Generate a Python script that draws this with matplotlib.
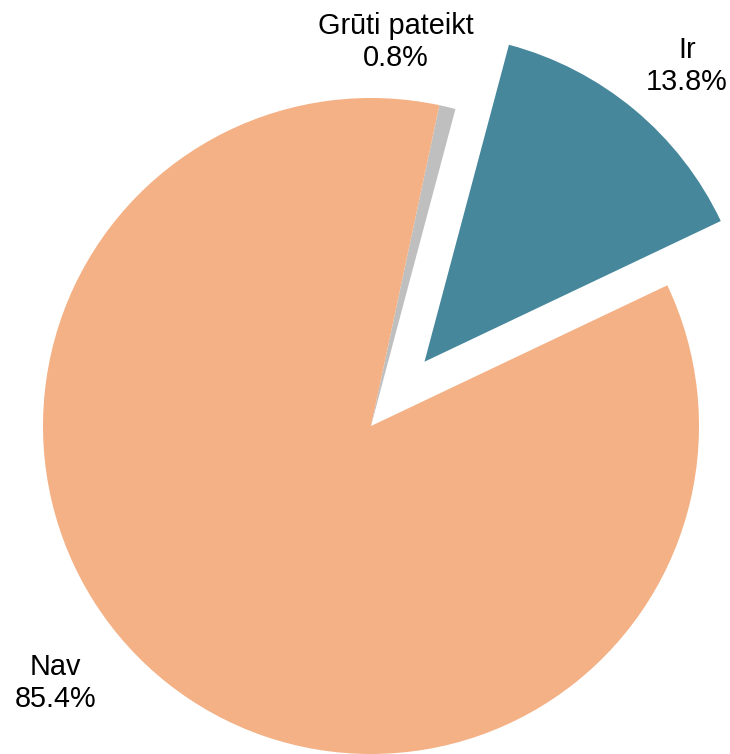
import matplotlib
matplotlib.use('Agg')
import matplotlib.pyplot as plt

plt.rcParams['font.family'] = ['Liberation Sans', 'DejaVu Sans']

# data
labels = ['Ir', 'Grūti pateikt', 'Nav']
values = [13.8, 0.8, 85.4]
colors = ['#46879C', '#BFBFBF', '#F3B185']
explode = [0.255, 0, 0]

fig = plt.figure(figsize=(7.30, 7.54), dpi=100)
ax = fig.add_axes([0, 0, 1, 1])

wedges, _ = ax.pie(values, colors=colors, explode=explode, startangle=25.4,
                   counterclock=True, radius=1.0,
                   wedgeprops=dict(linewidth=0))

# label positions (data units, pie radius = 1)
label_pos = [(0.963, 1.098), (0.076, 1.171), (-0.963, -0.784)]
for lab, val, (x, y) in zip(labels, values, label_pos):
    ax.text(x, y, f'{lab}\n{val:.1f}%', ha='center', va='center',
            fontsize=20.8, linespacing=1.2)

ax.set_xlim(-371 / 328, (730 - 371) / 328)
ax.set_ylim(-(754 - 426) / 328, 426 / 328)
ax.set_aspect('equal')
ax.axis('off')

fig.savefig('out.png', dpi=100)
